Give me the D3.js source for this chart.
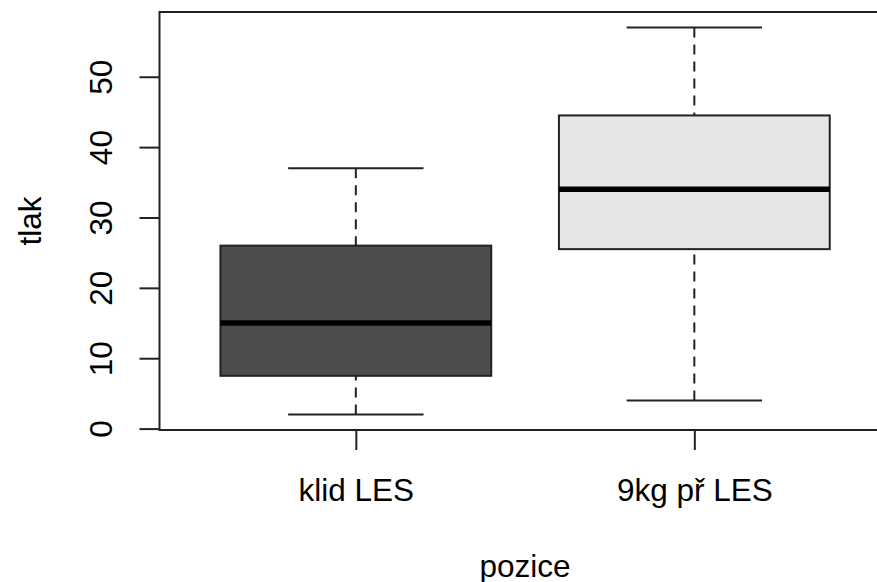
<!DOCTYPE html>
<html>

<head>
    <meta charset="UTF-8">
    <script src="https://d3js.org/d3.v7.min.js"></script>
    <style>
        body {
            margin: 0;
            background: #fff;
        }

        text {
            font-family: "Liberation Sans", Arial, sans-serif;
            font-size: 31.5px;
            fill: #000;
        }
    </style>
</head>

<body>
    <svg width="877" height="582"></svg>

    <script>

        // data
        let groups = ["klid LES", "9kg př LES"];
        let whiskerLow = [2, 4];
        let lowerHinge = [7.5, 25.5];
        let medians = [15, 34];
        let upperHinge = [26, 44.5];
        let whiskerHigh = [37, 57];
        let fills = ["#4d4d4d", "#e6e6e6"];
        let yTicks = [0, 10, 20, 30, 40, 50];

        let plotLeft = 159.5, plotTop = 12, plotBottom = 430;
        let svg = d3.select("svg");

        // R style axis ranges: extend by 4%
        let lo = d3.min(whiskerLow), hi = d3.max(whiskerHigh);
        let pad = (hi - lo) * 0.04;
        let y = d3.scaleLinear().domain([lo - pad, hi + pad]).range([plotBottom, plotTop]);

        let xPad = groups.length * 0.04;
        let x = d3.scaleLinear()
            .domain([0.5 - xPad, groups.length + 0.5 + xPad])
            .range([plotLeft, plotLeft + 338.5 * (groups.length + 2 * xPad)]);
        let plotRight = x.range()[1];
        let boxW = 0.8 * (x(2) - x(1));

        let boxes = groups.map((g, i) => ({
            name: g, pos: i + 1,
            lo: whiskerLow[i], q1: lowerHinge[i], med: medians[i], q3: upperHinge[i], hi: whiskerHigh[i],
            fill: fills[i]
        }));

        let g = svg.append("g").attr("class", "boxes");
        let box = g.selectAll("g").data(boxes).enter().append("g");

        // whiskers (dashed), drawn from the cap to the box
        box.append("line")
            .attr("x1", d => x(d.pos)).attr("x2", d => x(d.pos))
            .attr("y1", d => y(d.lo)).attr("y2", d => y(d.q1))
            .attr("stroke", "#222").attr("stroke-width", 2).attr("stroke-dasharray", "10,7");
        box.append("line")
            .attr("x1", d => x(d.pos)).attr("x2", d => x(d.pos))
            .attr("y1", d => y(d.hi)).attr("y2", d => y(d.q3))
            .attr("stroke", "#222").attr("stroke-width", 2).attr("stroke-dasharray", "10,7");

        // caps
        box.selectAll(".cap").data(d => [d.lo, d.hi].map(v => ({ v: v, pos: d.pos })))
            .enter().append("line")
            .attr("class", "cap")
            .attr("x1", d => x(d.pos) - boxW / 4).attr("x2", d => x(d.pos) + boxW / 4)
            .attr("y1", d => y(d.v)).attr("y2", d => y(d.v))
            .attr("stroke", "#222").attr("stroke-width", 2);

        // boxes
        box.append("rect")
            .attr("x", d => x(d.pos) - boxW / 2)
            .attr("width", boxW)
            .attr("y", d => y(d.q3))
            .attr("height", d => y(d.q1) - y(d.q3))
            .attr("fill", d => d.fill)
            .attr("stroke", "#222").attr("stroke-width", 2);

        // medians
        box.append("line")
            .attr("x1", d => x(d.pos) - boxW / 2).attr("x2", d => x(d.pos) + boxW / 2)
            .attr("y1", d => y(d.med)).attr("y2", d => y(d.med))
            .attr("stroke", "#000").attr("stroke-width", 5.5);

        // frame
        svg.append("rect")
            .attr("x", plotLeft).attr("y", plotTop)
            .attr("width", plotRight - plotLeft).attr("height", plotBottom - plotTop)
            .attr("fill", "none").attr("stroke", "#222").attr("stroke-width", 2);

        // y axis
        let yAxis = svg.append("g")
            .attr("transform", "translate(" + plotLeft + ",0)")
            .call(d3.axisLeft(y).tickValues(yTicks).tickSize(20).tickFormat(d3.format("d")));
        yAxis.select(".domain").remove();
        yAxis.selectAll(".tick line").attr("stroke", "#222").attr("stroke-width", 2);
        yAxis.selectAll(".tick text")
            .attr("x", 0).attr("y", 0).attr("dy", null)
            .attr("text-anchor", "middle")
            .attr("transform", "translate(-47.5,0) rotate(-90)");

        // x axis
        let xAxis = svg.append("g")
            .attr("transform", "translate(0," + plotBottom + ")")
            .call(d3.axisBottom(x).tickValues(boxes.map(d => d.pos)).tickSize(20)
                .tickFormat((d, i) => groups[i]));
        xAxis.select(".domain").remove();
        xAxis.selectAll(".tick line").attr("stroke", "#222").attr("stroke-width", 2);
        xAxis.selectAll(".tick text")
            .attr("y", 71).attr("dy", null);
        xAxis.attr("font-family", null).attr("font-size", null);
        yAxis.attr("font-family", null).attr("font-size", null);

        // axis titles
        svg.append("text")
            .attr("text-anchor", "middle")
            .attr("transform", "translate(41," + ((plotTop + plotBottom) / 2) + ") rotate(-90)")
            .text("tlak");

        svg.append("text")
            .attr("text-anchor", "middle")
            .attr("x", (plotLeft + plotRight) / 2)
            .attr("y", 577)
            .text("pozice");

    </script>
</body>

</html>
